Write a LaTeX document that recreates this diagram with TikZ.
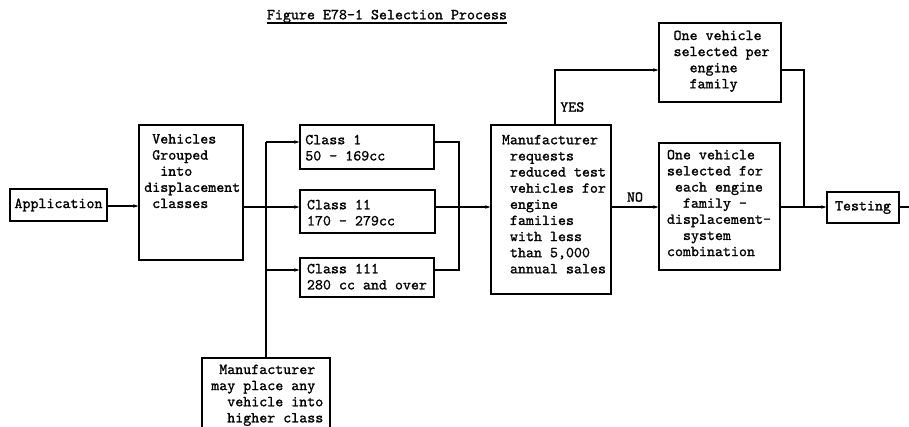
\documentclass[tikz,border=0pt]{standalone}
\usepackage{fontspec}
\newfontfamily\tw[FakeBold=1.2]{lmmono10-regular.otf}
\usetikzlibrary{arrows.meta,fit,calc}
\newcommand\lines[1]{\begin{tabular}[t]{@{}l@{}}#1\end{tabular}}
\newcommand\ia{\hphantom{x}}
\newcommand\ib{\hphantom{xx}}
\begin{document}
\begin{tikzpicture}[x=0.75pt,y=-0.75pt,
  blk/.style={draw, line width=0.8pt, inner sep=0pt},
  txt/.style={inner sep=0pt, font=\tw\fontsize{11.43}{12.1}\selectfont},
  arr/.style={line width=0.8pt, -{Stealth[length=4pt,width=2.6pt]}},
  ln/.style={line width=0.8pt}]
\clip (0,0) rectangle (909,426);
\fill[white] (0,0) rectangle (909,426);

% title
\node[txt, anchor=base west] (title) at (266.7,19.3) {Figure E78-1 Selection Process};
\draw[line width=0.9pt] ([yshift=-2.8pt]title.base west) -- ([yshift=-2.8pt]title.base east);

% boxes
\node[blk, fit={(10,189)(107,221)}] (app) {};
\node[blk, fit={(139,125)(243,260)}] (veh) {};
\node[blk, fit={(300,125)(434,169)}] (c1) {};
\node[blk, fit={(300,190)(435,233)}] (c2) {};
\node[blk, fit={(300,258)(434,297)}] (c3) {};
\node[blk, fit={(202,358)(330,440)}] (mp) {};
\node[blk, fit={(491,125)(611,294)}] (mr) {};
\node[blk, fit={(659,23)(781,102)}] (ov1) {};
\node[blk, fit={(659,143)(780,270)}] (ov2) {};
\node[blk, fit={(827,192)(899,223)}] (test) {};

% texts
\node[txt] (tapp) at (app) {Application};
\node[txt] (ttest) at (test) {Testing};
\node[txt, anchor=base west] (tveh) at (144,143.5) {\lines{\ia Vehicles\\ \ia Grouped\\ \ib into\\ displacement\\ \ia classes}};
\node[txt, anchor=base west] (tc1) at (305,144.3) {\lines{Class 1\\ 50 - 169cc}};
\node[txt, anchor=base west] (tc2) at (306.7,209.3) {\lines{Class 11\\ 170 - 279cc}};
\node[txt, anchor=base west] (tc3) at (306.7,273.3) {\lines{Class 111\\ 280 cc and over}};
\node[txt, anchor=base west] (tmp) at (211,374) {\lines{\ia Manufacturer\\ may place any\\ \ib vehicle into\\ \ib higher class}};
\node[txt, anchor=base west] (tmr) at (501.7,144.3) {\lines{Manufacturer\\ \ia requests\\ \ia reduced test\\ \ia vehicles for\\ \ia engine\\ \ia families\\ \ia with less\\ \ia than 5,000\\ \ia annual sales}};
\node[txt, anchor=base west] (tov1) at (673.3,40) {\lines{One vehicle\\ selected per\\ \ib engine\\ \ib family}};
\node[txt, anchor=base west] (tov2) at (666.7,159.3) {\lines{One vehicle\\ selected for\\ \ia each engine\\ \ib family -\\ displacement-\\ \ib system\\ combination}};
\node[txt, anchor=base west] (yes) at (560,111.7) {YES};
\node[txt, anchor=base west] (no) at (626.7,201.7) {NO};

% connectors
\coordinate (ya) at (0,206);
\coordinate (yb) at (0,207);
\draw[arr] (app.east |- ya) -- (veh.west |- ya);
\coordinate (j1) at (266,142);
\coordinate (j3) at (266,270);
\draw[ln] (mp.north) -- (j1);
\draw[arr] (j1) -- (j1 -| c1.west);
\draw[arr] (j3) -- (j3 -| c3.west);
\draw[arr] (veh.east |- yb) -- (c2.west |- yb);
\coordinate (m1) at (459,142);
\coordinate (m3) at (459,270);
\draw[ln] (m1 -| c1.east) -- (m1) -- (m3) -- (m3 -| c3.east);
\draw[arr] (c2.east |- yb) -- (mr.west |- yb);
\coordinate (yc) at (555,70);
\draw[arr] (mr.north -| yc) -- (yc) -- (yc -| ov1.west);
\draw[arr] (mr.east |- yb) -- (ov2.west |- yb);
\draw[arr] (ov2.east |- yb) -- (test.west |- yb);
\coordinate (k) at (804,70);
\draw[ln] (ov1.east |- k) -- (k) -- (k |- yb);
\coordinate (endr) at (909,207);
\draw[ln] (test.east |- endr) -- (endr);
\end{tikzpicture}
\end{document}
